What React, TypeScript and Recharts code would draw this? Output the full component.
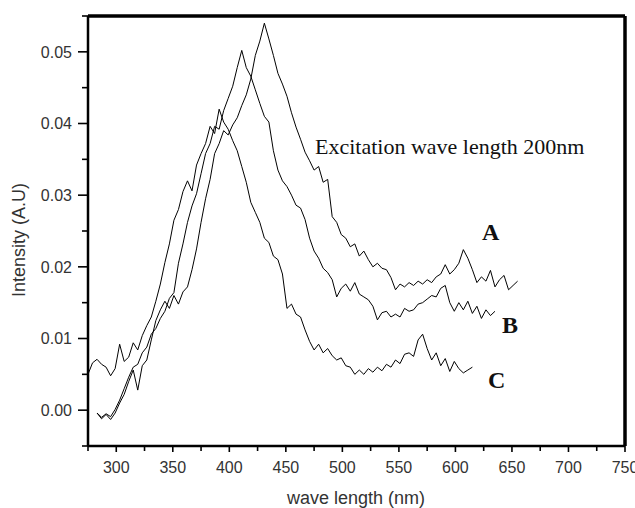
import React from 'react';
import { LineChart, Line, XAxis, YAxis, ReferenceLine } from 'recharts';

// wavelength grid (nm), 4 nm spacing
const WAVELENGTHS = [
  275, 279, 283, 287, 291, 295, 299, 303, 307, 311, 315, 319, 323, 327, 331, 335, 339, 343, 347, 351,
  355, 359, 363, 367, 371, 375, 379, 383, 387, 391, 395, 399, 403, 407, 411, 415, 419, 423, 427, 431,
  435, 439, 443, 447, 451, 455, 459, 463, 467, 471, 475, 479, 483, 487, 491, 495, 499, 503, 507, 511,
  515, 519, 523, 527, 531, 535, 539, 543, 547, 551, 555, 559, 563, 567, 571, 575, 579, 583, 587, 591,
  595, 599, 603, 607, 611, 615, 619, 623, 627, 631, 635, 639, 643, 647, 651, 655,
];

// Curve A: 283 .. 655 nm
const A_START = 283;
const SERIES_A = [
  -0.0004, -0.0012, -0.0006, -0.0013, -0.0004, 0.0010, 0.0022, 0.0040, 0.0056, 0.0028,
  0.0062, 0.0070, 0.0098, 0.0125, 0.0140, 0.0152, 0.0142, 0.0160, 0.0148, 0.0165,
  0.0172, 0.0196, 0.0225, 0.0262, 0.0295, 0.0322, 0.0358, 0.0372, 0.0390, 0.0384,
  0.0398, 0.0408, 0.0425, 0.0440, 0.0462, 0.0495, 0.0515, 0.0540, 0.0518, 0.0495,
  0.0470, 0.0455, 0.0438, 0.0415, 0.0395, 0.0378, 0.0360, 0.0348, 0.0335, 0.0340,
  0.0318, 0.0322, 0.0270, 0.0262, 0.0245, 0.0240, 0.0228, 0.0232, 0.0215, 0.0222,
  0.0210, 0.0200, 0.0205, 0.0198, 0.0196, 0.0185, 0.0168, 0.0176, 0.0172, 0.0178,
  0.0174, 0.0180, 0.0176, 0.0182, 0.0178, 0.0186, 0.0190, 0.0203, 0.0190, 0.0196,
  0.0205, 0.0224, 0.0212, 0.0196, 0.0178, 0.0186, 0.0180, 0.0195, 0.0172, 0.0182,
  0.0188, 0.0168, 0.0174, 0.0180,
];

// Curve B: 283 .. 635 nm
const B_START = 283;
const SERIES_B = [
  -0.0004, -0.0010, -0.0005, -0.0009, 0.0001, 0.0014, 0.0030, 0.0046, 0.0060, 0.0064,
  0.0080, 0.0088, 0.0106, 0.0114, 0.0128, 0.0138, 0.0156, 0.0164, 0.0205, 0.0232,
  0.0262, 0.0285, 0.0302, 0.0330, 0.0358, 0.0372, 0.0396, 0.0392, 0.0418, 0.0435,
  0.0452, 0.0478, 0.0502, 0.0478, 0.0466, 0.0447, 0.0428, 0.0410, 0.0402, 0.0362,
  0.0335, 0.0320, 0.0312, 0.0300, 0.0286, 0.0282, 0.0266, 0.0240, 0.0222, 0.0212,
  0.0198, 0.0192, 0.0182, 0.0158, 0.0170, 0.0176, 0.0166, 0.0178, 0.0162, 0.0158,
  0.0154, 0.0145, 0.0126, 0.0136, 0.0138, 0.0130, 0.0134, 0.0130, 0.0142, 0.0138,
  0.0140, 0.0148, 0.0150, 0.0155, 0.0160, 0.0158, 0.0170, 0.0174, 0.0150, 0.0138,
  0.0150, 0.0140, 0.0152, 0.0135, 0.0145, 0.0128, 0.0140, 0.0132, 0.0138,
];

// Curve C: 275 .. 615 nm
const C_START = 275;
const SERIES_C = [
  0.0050, 0.0066, 0.0071, 0.0064, 0.0060, 0.0048, 0.0058, 0.0092, 0.0068, 0.0074,
  0.0094, 0.0084, 0.0104, 0.0118, 0.0130, 0.0152, 0.0176, 0.0206, 0.0232, 0.0265,
  0.0280, 0.0305, 0.0320, 0.0306, 0.0342, 0.0358, 0.0372, 0.0396, 0.0386, 0.0420,
  0.0402, 0.0392, 0.0376, 0.0362, 0.0340, 0.0318, 0.0290, 0.0276, 0.0262, 0.0240,
  0.0234, 0.0215, 0.0210, 0.0190, 0.0142, 0.0148, 0.0134, 0.0130, 0.0112, 0.0096,
  0.0084, 0.0092, 0.0080, 0.0086, 0.0076, 0.0070, 0.0073, 0.0062, 0.0060, 0.0050,
  0.0056, 0.0050, 0.0058, 0.0053, 0.0060, 0.0055, 0.0064, 0.0060, 0.0070, 0.0065,
  0.0078, 0.0080, 0.0075, 0.0098, 0.0106, 0.0086, 0.0070, 0.0080, 0.0062, 0.0072,
  0.0054, 0.0068, 0.0058, 0.0052, 0.0056, 0.0060,
];

const X_TICKS = [275, 300, 325, 350, 375, 400, 425, 450, 475, 500, 525, 550, 575, 600, 625, 650, 675, 700, 725, 750];
const Y_TICKS = [-0.005, 0, 0.005, 0.01, 0.015, 0.02, 0.025, 0.03, 0.035, 0.04, 0.045, 0.05, 0.055];

const pick = (arr: number[], start: number, nm: number) => {
  if (nm < start) return null;
  const v = arr[(nm - start) / 4];
  return v === undefined ? null : v;
};

const data = WAVELENGTHS.map((nm) => ({
  nm,
  A: pick(SERIES_A, A_START, nm),
  B: pick(SERIES_B, B_START, nm),
  C: pick(SERIES_C, C_START, nm),
}));

const SANS = 'Liberation Sans, Arial, Helvetica, sans-serif';
const SERIF = 'Liberation Serif, Times New Roman, serif';

const YTick = (props: any) => {
  const { x, y, payload } = props;
  const v = payload.value as number;
  const major = Math.abs(Math.round(v * 1000)) % 10 === 0;
  return (
    <g>
      <line x1={x} x2={x - (major ? 10 : 6)} y1={y} y2={y} stroke="#000" strokeWidth={1.6} />
      {major && (
        <text x={x - 16} y={y} dy="0.36em" textAnchor="end" fontFamily={SANS} fontSize={16} fill="#333">
          {v.toFixed(2)}
        </text>
      )}
    </g>
  );
};

const XTick = (props: any) => {
  const { x, y, payload } = props;
  const v = payload.value as number;
  const major = v % 50 === 0;
  return (
    <g>
      <line x1={x} x2={x} y1={y} y2={y + (major ? 6 : 5)} stroke="#000" strokeWidth={1.6} />
      {major && (
        <text x={x} y={y + 27} textAnchor="middle" fontFamily={SANS} fontSize={16} fill="#333">
          {v}
        </text>
      )}
    </g>
  );
};

export default function App() {
  return (
    <div style={{ position: 'absolute', left: 0, top: 0, width: 635, height: 508, background: '#fff' }}>
      <LineChart width={635} height={508} data={data} margin={{ top: 16, right: 10, left: 0, bottom: 22 }}>
        <XAxis
          dataKey="nm"
          type="number"
          domain={[275, 750]}
          ticks={X_TICKS}
          interval={0}
          tickSize={0}
          tickMargin={0}
          tickLine={false}
          tick={<XTick />}
          height={40}
          axisLine={{ stroke: '#000', strokeWidth: 2.5 }}
        />
        <YAxis
          type="number"
          domain={[-0.005, 0.055]}
          ticks={Y_TICKS}
          interval={0}
          tickSize={0}
          tickMargin={0}
          tickLine={false}
          tick={<YTick />}
          width={88}
          axisLine={{ stroke: '#000', strokeWidth: 2.5 }}
        />
        <ReferenceLine y={0.055} stroke="#000" strokeWidth={3.5} />
        <ReferenceLine x={750} stroke="#000" strokeWidth={3.5} />
        <Line dataKey="A" stroke="#000" strokeWidth={1} dot={false} isAnimationActive={false} type="linear" />
        <Line dataKey="B" stroke="#000" strokeWidth={1} dot={false} isAnimationActive={false} type="linear" />
        <Line dataKey="C" stroke="#000" strokeWidth={1} dot={false} isAnimationActive={false} type="linear" />
      </LineChart>
      <svg width={635} height={508} style={{ position: 'absolute', left: 0, top: 0, pointerEvents: 'none' }}>
        <text x={315} y={154} fontFamily={SERIF} fontSize={22} fill="#111">
          Excitation wave length 200nm
        </text>
        <text x={482} y={240} fontFamily={SERIF} fontSize={24} fontWeight="bold" fill="#111">A</text>
        <text x={502} y={333} fontFamily={SERIF} fontSize={24} fontWeight="bold" fill="#111">B</text>
        <text x={488} y={388} fontFamily={SERIF} fontSize={24} fontWeight="bold" fill="#111">C</text>
        <text x={356} y={504} textAnchor="middle" fontFamily={SANS} fontSize={18} fill="#333">
          wave length (nm)
        </text>
        <text
          x={25}
          y={240}
          textAnchor="middle"
          transform="rotate(-90 25 240)"
          fontFamily={SANS}
          fontSize={18}
          fill="#333"
        >
          Intensity (A.U)
        </text>
      </svg>
    </div>
  );
}
